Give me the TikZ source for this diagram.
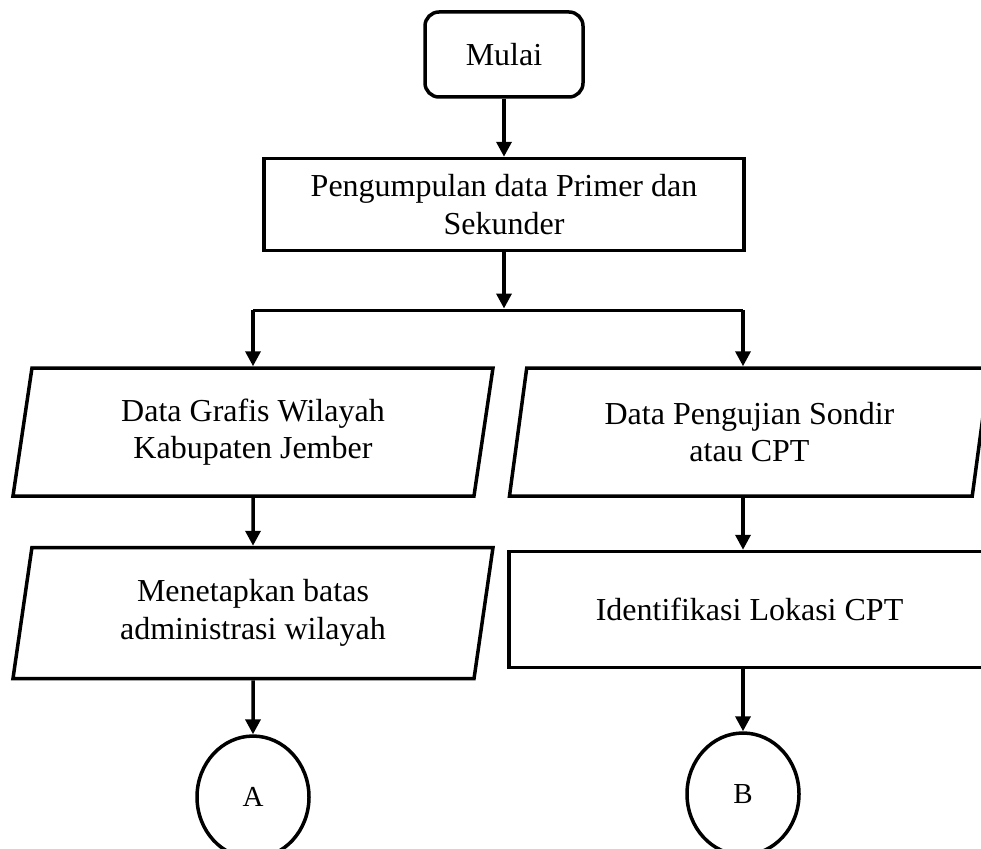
\documentclass[tikz,border=0pt]{standalone}
\usepackage{fontspec}
\setmainfont{Liberation Serif}
\usetikzlibrary{arrows.meta, positioning, shapes.geometric}

\begin{document}
\begin{tikzpicture}[
    x=1pt, y=1pt,
    >={Triangle[length=15pt, width=15pt]},
    line width=3.5pt,
    every node/.style={font=\fontsize{32}{37.5}\selectfont},
    mulaibox/.style={draw, rounded corners=14pt, minimum width=158pt, minimum height=85pt},
    proses/.style={draw, rectangle, minimum width=480pt, align=center},
    masukan/.style={draw, trapezium, trapezium left angle=75.5, trapezium right angle=104.5, trapezium stretches body, minimum width=480pt, align=center},
    konektor/.style={draw, ellipse, minimum width=112pt, minimum height=122pt, font=\fontsize{29}{32}\selectfont},
    panah/.style={->, line width=3.5pt},
    garis/.style={line width=3.5pt}
  ]
    \useasboundingbox (0,0) rectangle (981,-848);

    % Awal
    \node[mulaibox] (mulai) at (504,-54.5) {Mulai};
    \node[proses, minimum height=92pt, below=58pt of mulai] (kumpul) {Pengumpulan data Primer dan\\Sekunder};
    \draw[panah] (mulai) -- (kumpul);

    % Percabangan
    \coordinate[below=58pt of kumpul] (cabang);
    \coordinate[left=251pt of cabang] (kiri);
    \coordinate[right=239pt of cabang] (kanan);
    \draw[panah, shorten >=1.75pt] (kumpul) -- (cabang);
    \draw[garis] (kiri) -- (kanan);

    % Kolom kiri
    \node[masukan, minimum height=128pt, below=56pt of kiri] (grafis) {Data Grafis Wilayah\\Kabupaten Jember};
    \node[masukan, minimum height=131pt, below=48pt of grafis] (batas) {Menetapkan batas\\administrasi wilayah};
    \node[konektor, below=54pt of batas] (A) {A};

    \draw[panah] (kiri) -- (grafis.north);
    \draw[panah] (grafis) -- (batas);
    \draw[panah] (batas) -- (A);

    % Kolom kanan
    \node[masukan, minimum height=128pt, below=56pt of kanan, xshift=6.5pt] (sondir) {Data Pengujian Sondir\\atau CPT};
    \node[proses, minimum width=481pt, minimum height=116pt, below=52pt of sondir] (lokasi) {Identifikasi Lokasi CPT};
    \node[konektor, below=62pt of lokasi, xshift=-6.5pt] (B) {B};

    \draw[panah] (kanan) -- (kanan |- sondir.north);
    \draw[panah] (kanan |- sondir.south) -- (kanan |- lokasi.north);
    \draw[panah] (lokasi.south -| B) -- (B);

\end{tikzpicture}
\end{document}
